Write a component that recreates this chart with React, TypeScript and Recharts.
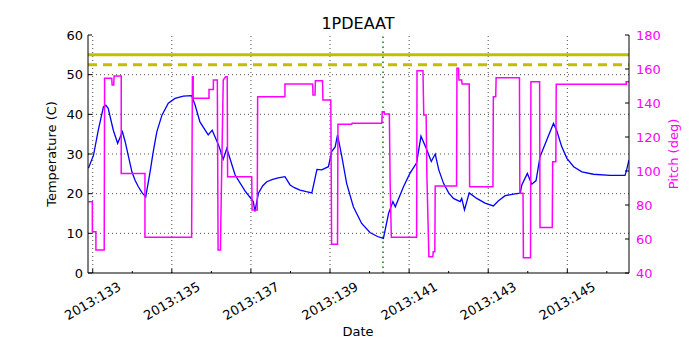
import React from "react"
import { ComposedChart, Line, XAxis, YAxis, ReferenceLine } from "recharts"

// temperature samples (day of year, deg C)
const tempDays = [
  132.89, 133.02, 133.14, 133.27, 133.33, 133.39, 133.52, 133.63, 133.75, 133.82,
  133.9, 133.99, 134.07, 134.15, 134.25, 134.34, 134.45, 134.53, 134.62, 134.75,
  134.91, 135.08, 135.29, 135.5, 135.59, 135.71, 135.92, 136.02, 136.18, 136.3,
  136.39, 136.6, 136.85, 137.06, 137.1, 137.19, 137.3, 137.4, 137.55, 137.69,
  137.86, 137.99, 138.1, 138.24, 138.4, 138.54, 138.67, 138.79, 138.96, 139.04,
  139.13, 139.19, 139.3, 139.42, 139.59, 139.8, 140.01, 140.2, 140.35, 140.48,
  140.59, 140.65, 140.86, 141.02, 141.19, 141.3, 141.45, 141.56, 141.66, 141.75,
  141.87, 142.0, 142.12, 142.29, 142.33, 142.4, 142.52, 142.71, 142.92, 143.13,
  143.26, 143.43, 143.64, 143.81, 143.85, 143.99, 144.1, 144.21, 144.31, 144.48,
  144.65, 144.73, 144.86, 144.99, 145.16, 145.37, 145.66, 146.08, 146.46, 146.5,
  146.56,
]
const tempValues = [
  26.4, 29.7, 36, 41.9, 42.3, 41.5, 36, 32.7, 35.6, 33.1,
  29.5, 25.5, 23.4, 21.8, 20.2, 19.2, 25.5, 30.6, 35.6, 39.8,
  42.8, 44, 44.6, 44.7, 42.3, 38.1, 34.8, 36, 32.3, 28.7,
  31.4, 24.7, 20.7, 18, 15.5, 20.1, 22, 23, 23.6, 24,
  24.3, 22.2, 21.5, 20.9, 20.5, 20.2, 26.1, 26, 26.8, 30.6,
  31.8, 34.8, 29.3, 22.6, 16.7, 12.5, 10.2, 9.2, 8.7, 15,
  18, 16.7, 21.8, 25.1, 27.8, 34.5, 31, 28.1, 30, 26,
  22.6, 20.2, 18.8, 18, 18.8, 15.9, 20.2, 18.8, 17.6, 16.9,
  18.2, 19.5, 19.9, 20.1, 22.2, 25.1, 22.4, 23.3, 29.3, 33.5,
  37.7, 36, 31.8, 28.9, 26.8, 25.5, 24.9, 24.6, 24.6, 26,
  28.5,
]

// pitch samples (day of year, deg)
const pitchDays = [132.89, 132.99, 132.99, 133.08, 133.08, 133.29, 133.3, 133.48, 133.49, 133.53, 133.54, 133.72, 133.72, 134.32, 134.32, 135.5, 135.52, 135.54, 135.54, 135.94, 135.94, 136.05, 136.05, 136.15, 136.17, 136.23, 136.24, 136.3, 136.36, 136.4, 136.41, 137.02, 137.03, 137.16, 137.17, 137.86, 137.86, 138.56, 138.57, 138.62, 138.63, 138.81, 138.82, 139.02, 139.04, 139.19, 139.2, 139.55, 139.56, 140.31, 140.32, 140.37, 140.38, 140.5, 140.52, 140.55, 141.19, 141.2, 141.35, 141.37, 141.43, 141.45, 141.5, 141.6, 141.61, 141.65, 141.66, 142.2, 142.21, 142.25, 142.26, 142.33, 142.34, 142.52, 142.53, 143.12, 143.13, 143.19, 143.2, 143.79, 143.8, 143.88, 143.89, 144.07, 144.08, 144.3, 144.31, 144.62, 144.63, 144.71, 144.72, 146.49, 146.49, 146.56]
const pitchValues = [81.9, 81.9, 64.3, 64.3, 53.5, 53.5, 154.5, 154.5, 150.6, 150.6, 155.9, 155.9, 98.6, 98.6, 61, 61, 155.5, 155.5, 142.8, 142.8, 148, 148, 153.5, 153.5, 53.5, 53.5, 72, 153.5, 155.5, 155.5, 96.6, 96.6, 77, 77, 143.7, 143.7, 151.2, 151.2, 144.7, 144.7, 153.1, 153.1, 141.8, 141.8, 56.9, 56.9, 127.5, 127.5, 128.1, 128.1, 134.9, 134.9, 133.6, 133.6, 92.8, 61, 61, 159, 159, 133, 133, 96.6, 49.6, 49.6, 52.5, 52.5, 91.2, 91.2, 160.4, 160.4, 153.5, 153.5, 151.2, 151.2, 90.8, 90.8, 143.7, 143.7, 154.9, 154.9, 86.9, 86.9, 49, 49, 152.5, 152.5, 66.7, 66.7, 105.5, 105.5, 151, 151, 152.5, 152.5]

const dayTicks = [133, 134, 135, 136, 137, 138, 139, 140, 141, 142, 143, 144, 145, 146]
const majorDays = [133, 135, 137, 139, 141, 143, 145]
const tempTicks = [0, 10, 20, 30, 40, 50, 60]
const tempGrid = [10, 20, 30, 40, 50]
const pitchTicks = [40, 60, 80, 100, 120, 140, 160, 180]
const planningLimit = 55
const cautionLimit = 52.5
const nowDay = 140.34

const tempData = tempDays.map((x, i) => ({ x, t: tempValues[i] }))
const pitchData = pitchDays.map((x, i) => ({ x, p: pitchValues[i] }))

const font = "'DejaVu Sans', sans-serif"

const XTick = ({ x, y, payload }: any) => {
  const major = payload.value % 2 === 1
  return (
    <g>
      <line x1={x} x2={x} y1={y} y2={y - (major ? 4 : 2)} stroke="#000" />
      {major && (
        <text
          x={0}
          y={0}
          textAnchor="middle"
          dominantBaseline="central"
          transform={`translate(${x},${y + 28}) rotate(-30)`}
          fontSize={13}
          fontFamily={font}
          fill="#000"
        >
          {"2013:" + payload.value}
        </text>
      )}
    </g>
  )
}

const LeftTick = ({ x, y, payload }: any) => (
  <g>
    <line x1={x} x2={x + 4} y1={y} y2={y} stroke="#000" />
    <text x={x - 5} y={y} textAnchor="end" dominantBaseline="central" fontSize={13} fontFamily={font} fill="#000">
      {payload.value}
    </text>
  </g>
)

const RightTick = ({ x, y, payload }: any) => (
  <g>
    <line x1={x} x2={x - 4} y1={y} y2={y} stroke="#000" />
    <text x={x + 7} y={y} textAnchor="start" dominantBaseline="central" fontSize={13} fontFamily={font} fill="#ff00ff">
      {payload.value}
    </text>
  </g>
)

export default function App() {
  return (
    <div style={{ position: "absolute", left: 0, top: 0, width: 700, height: 350, background: "#fff" }}>
      <ComposedChart width={700} height={350} margin={{ top: 35, right: 0, bottom: 0, left: 0 }}>
        <XAxis
          dataKey="x"
          type="number"
          domain={[132.88, 146.56]}
          allowDataOverflow
          ticks={dayTicks}
          interval={0}
          height={77}
          tickSize={0}
          tickMargin={0}
          tickLine={false}
          axisLine={{ stroke: "#000" }}
          tick={<XTick />}
        />
        <XAxis
          xAxisId="top"
          orientation="top"
          dataKey="x"
          type="number"
          domain={[132.88, 146.56]}
          allowDataOverflow
          height={0}
          tick={false}
          tickLine={false}
          axisLine={{ stroke: "#000" }}
        />
        <YAxis
          yAxisId="left"
          type="number"
          domain={[0, 60]}
          ticks={tempTicks}
          interval={0}
          width={88}
          tickSize={0}
          tickMargin={0}
          tickLine={false}
          axisLine={{ stroke: "#000" }}
          tick={<LeftTick />}
        />
        <YAxis
          yAxisId="right"
          orientation="right"
          type="number"
          domain={[40, 180]}
          ticks={pitchTicks}
          interval={0}
          width={71}
          tickSize={0}
          tickMargin={0}
          tickLine={false}
          axisLine={{ stroke: "#000" }}
          tick={<RightTick />}
        />
        {tempGrid.map((v) => (
          <ReferenceLine key={"h" + v} yAxisId="left" y={v} stroke="#000" strokeWidth={0.7} strokeDasharray="1 3" />
        ))}
        {majorDays.map((d) => (
          <ReferenceLine key={"v" + d} yAxisId="left" x={d} stroke="#000" strokeWidth={0.7} strokeDasharray="1 3" />
        ))}
        <ReferenceLine yAxisId="left" y={planningLimit} stroke="#bfbf00" strokeWidth={3} />
        <ReferenceLine yAxisId="left" y={cautionLimit} stroke="#bfbf00" strokeWidth={3} strokeDasharray="9 6" />
        <ReferenceLine yAxisId="left" x={nowDay} stroke="#008000" strokeWidth={1.5} strokeDasharray="1.5 3.5" />
        <Line
          data={tempData}
          yAxisId="left"
          dataKey="t"
          type="linear"
          stroke="#0000ff"
          strokeWidth={1.3}
          dot={false}
          isAnimationActive={false}
        />
        <Line
          data={pitchData}
          yAxisId="right"
          dataKey="p"
          type="linear"
          stroke="#ff00ff"
          strokeWidth={1.5}
          dot={false}
          isAnimationActive={false}
        />
      </ComposedChart>
      <svg width={700} height={350} style={{ position: "absolute", left: 0, top: 0, pointerEvents: "none" }}>
        <text x={358} y={23} textAnchor="middle" dominantBaseline="central" fontSize={16} fontFamily={font} fill="#000">
          1PDEAAT
        </text>
        <text x={358} y={331} textAnchor="middle" dominantBaseline="central" fontSize={13} fontFamily={font} fill="#000">
          Date
        </text>
        <text
          x={0}
          y={0}
          transform="translate(51,154) rotate(-90)"
          textAnchor="middle"
          dominantBaseline="central"
          fontSize={13}
          fontFamily={font}
          fill="#000"
        >
          Temperature (C)
        </text>
        <text
          x={0}
          y={0}
          transform="translate(673,154) rotate(-90)"
          textAnchor="middle"
          dominantBaseline="central"
          fontSize={13}
          fontFamily={font}
          fill="#ff00ff"
        >
          Pitch (deg)
        </text>
      </svg>
    </div>
  )
}
